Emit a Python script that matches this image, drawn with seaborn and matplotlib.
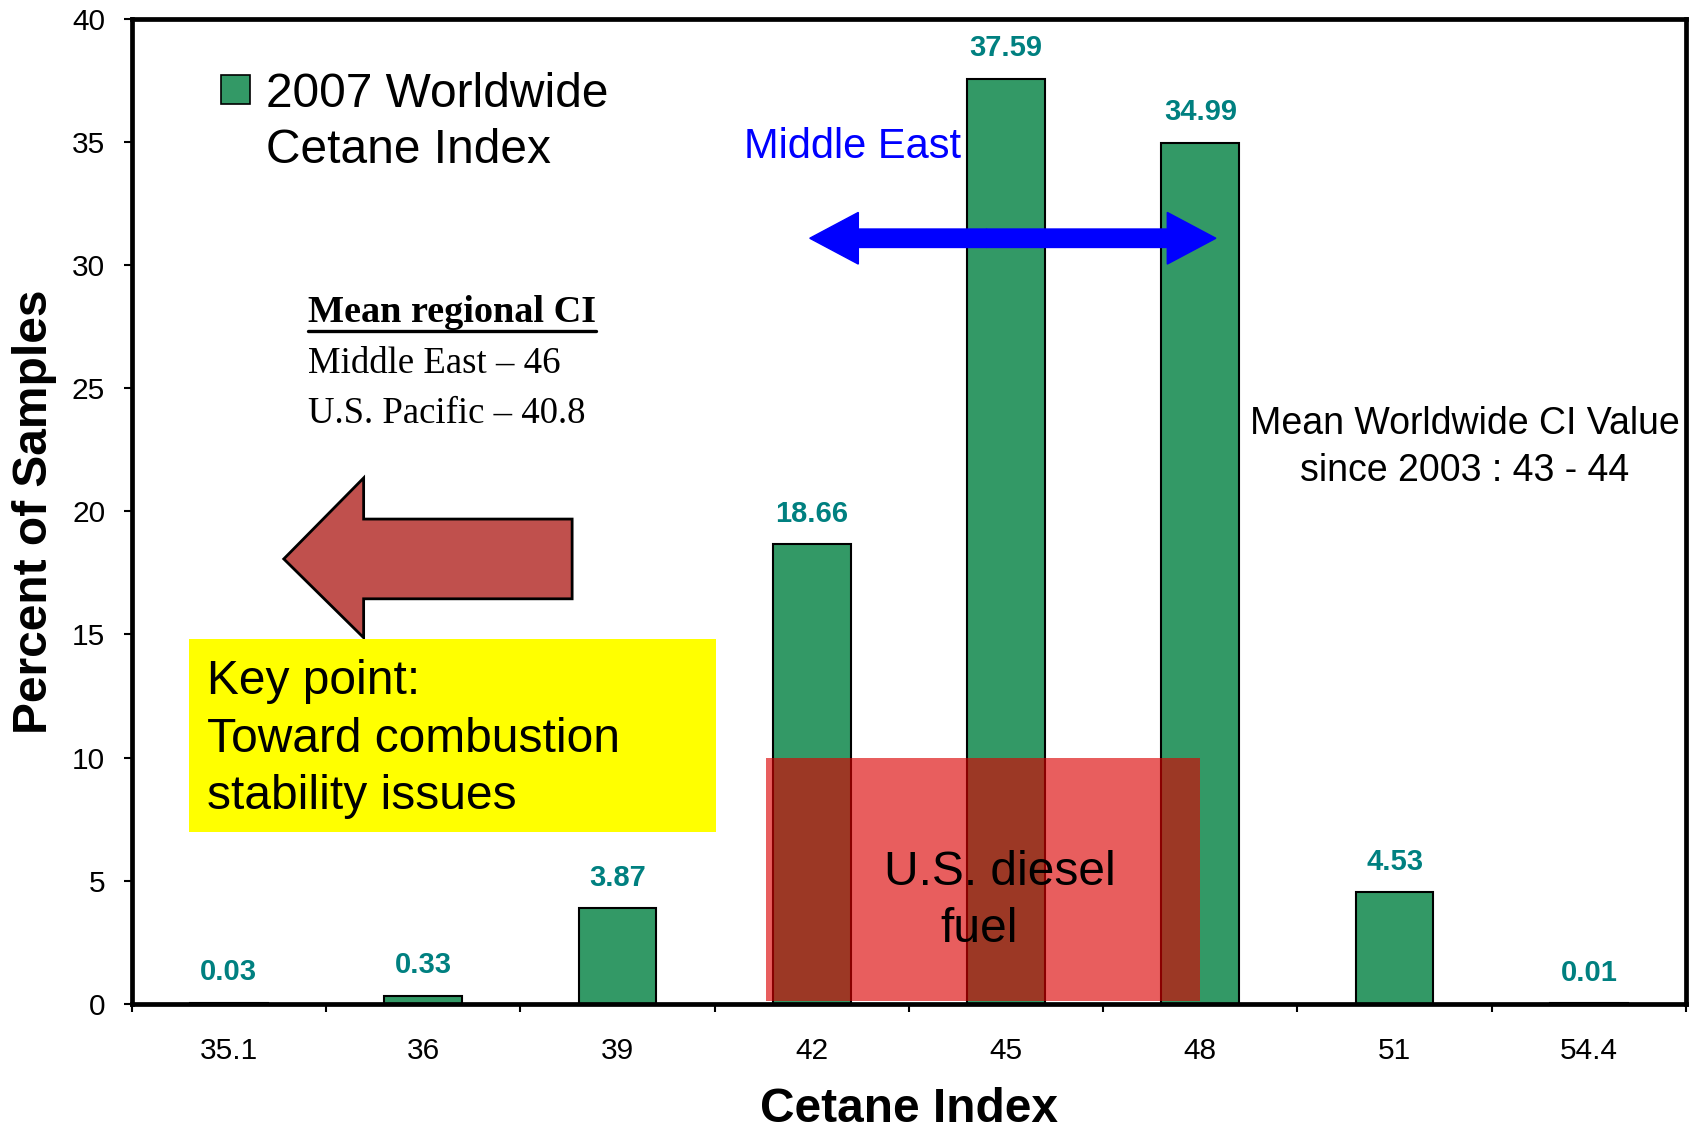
import numpy as np
import pandas as pd
import seaborn as sns
import matplotlib.pyplot as plt
from matplotlib.patches import Polygon, Rectangle, FancyArrow

# Cetane index bins and share of samples (%)
cetane = ["35.1", "36", "39", "42", "45", "48", "51", "54.4"]
percent = [0.03, 0.33, 3.87, 18.66, 37.59, 34.99, 4.53, 0.01]
series_name = "2007 Worldwide\nCetane Index"

regional = ["Middle East \u2013 46", "U.S. Pacific \u2013 40.8"]
worldwide_note = "Mean Worldwide CI Value\nsince 2003 : 43 - 44"
key_point = "Key point:\nToward combustion\nstability issues"

bar_green = "#339966"
label_teal = "#008080"

sns.set_theme(style="white")
plt.rcParams['font.family'] = ['Liberation Sans', 'DejaVu Sans']
plt.rcParams['text.color'] = 'black'
plt.rcParams['axes.labelcolor'] = 'black'

df = pd.DataFrame({"cetane": cetane, "percent": percent})

fig = plt.figure(figsize=(16.92, 11.29), dpi=100)
ax = fig.add_axes([0.0778, 0.111, 0.9187, 0.872])

sns.barplot(data=df, x="cetane", y="percent", color=bar_green, saturation=1,
            edgecolor="black", linewidth=1.5, width=0.4, ax=ax, zorder=2)

# value labels above bars
ax.bar_label(ax.containers[0], labels=[f"{v:.2f}" for v in percent], padding=12,
             color=label_teal, fontsize=21, fontweight="bold")

ax.set_xlim(-0.5, len(cetane) - 0.5)
ax.set_ylim(0, 40)
ax.set_yticks(np.arange(0, 41, 5))

for s in ax.spines.values():
    s.set_visible(True)
    s.set_color("black")
    s.set_linewidth(3.4)

ax.tick_params(axis="y", direction="out", length=6, width=1.5, labelsize=21.5, pad=13,
               left=True, colors="black")
ax.tick_params(axis="x", which="major", length=0, labelsize=21.5, pad=24, colors="black")
ax.set_xticks(np.arange(-0.5, len(cetane), 1.0), minor=True)
ax.tick_params(axis="x", which="minor", direction="out", length=6, width=1.5,
               bottom=True, colors="black")

ax.set_xlabel("Cetane Index", fontsize=34.5, fontweight="bold", labelpad=16)
ax.set_ylabel("Percent of Samples", fontsize=34.5, fontweight="bold", labelpad=11)

# legend (drawn by hand so the patch sits on the first line)
ax.add_patch(Rectangle((-0.039, 36.54), 0.15, 1.18, facecolor=bar_green,
                       edgecolor="black", linewidth=1.2, zorder=3))
ax.text(0.19, 35.8, series_name, fontsize=34.5, va="center", ha="left",
        linespacing=1.33)

# Middle East range arrow
ax.text(2.65, 34.8, "Middle East", fontsize=30, color="#0000FF", va="center", ha="left")
ax.add_patch(FancyArrow(3.9, 31.1, 1.18, 0, width=0.75, head_width=2.1,
                        head_length=0.25, length_includes_head=True,
                        color="#0000FF", zorder=4))
ax.add_patch(FancyArrow(3.9, 31.1, -0.91, 0, width=0.75, head_width=2.1,
                        head_length=0.25, length_includes_head=True,
                        color="#0000FF", zorder=4))

# mean regional CI notes
ax.text(0.406, 28.07, "Mean regional CI", family=["Liberation Serif"], fontsize=27.5,
        fontweight="bold", va="center", ha="left")
ax.plot([0.406, 1.89], [27.35, 27.35], color="black", lw=2.4, zorder=3)
ax.text(0.406, 26.0, regional[0], family=["Liberation Serif"], fontsize=26.5,
        va="center", ha="left")
ax.text(0.406, 23.98, regional[1], family=["Liberation Serif"], fontsize=26.5,
        va="center", ha="left")

# worldwide mean note
ax.text(6.36, 22.6, worldwide_note, fontsize=27, ha="center", va="center",
        linespacing=1.42)

# left-pointing block arrow
arrow_pts = [(0.283, 18.07), (0.694, 21.36), (0.694, 19.69), (1.767, 19.69),
             (1.767, 16.45), (0.694, 16.45), (0.694, 14.87)]
ax.add_patch(Polygon(arrow_pts, closed=True, facecolor="#C0504D", edgecolor="black",
                     linewidth=2, zorder=3))

# key point box
ax.add_patch(Rectangle((-0.206, 6.97), 2.712, 7.85, facecolor="#FFFF00",
                       edgecolor="none", zorder=3))
ax.text(-0.11, 10.75, key_point, fontsize=34.5, ha="left", va="center",
        linespacing=1.35, zorder=4)

# U.S. diesel fuel band
ax.add_patch(Rectangle((2.767, 0.1), 2.233, 9.9, facecolor="#DB0000", alpha=0.63,
                       edgecolor="none", zorder=5))
ax.text(3.97, 5.35, "U.S. diesel", fontsize=34.5, ha="center", va="center", zorder=6)
ax.text(3.86, 3.02, "fuel", fontsize=34.5, ha="center", va="center", zorder=6)

fig.savefig("out.png", dpi=100)
